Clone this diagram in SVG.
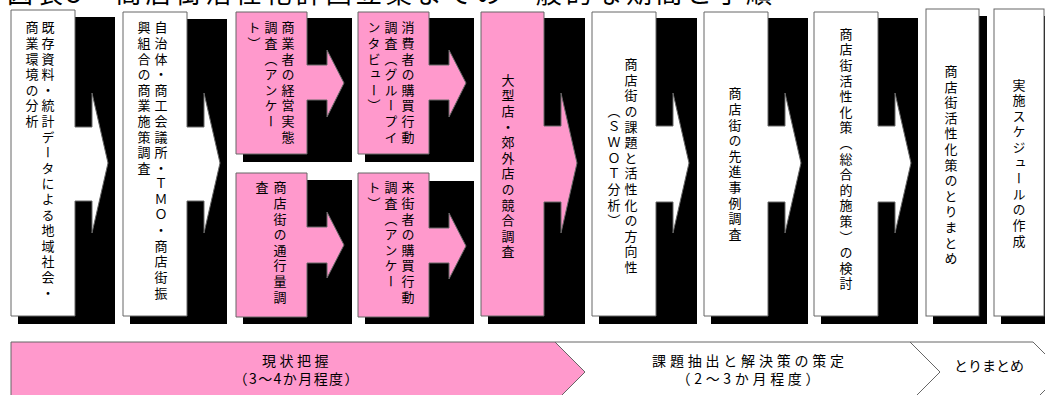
<svg xmlns="http://www.w3.org/2000/svg" width="1045" height="395" viewBox="0 0 1045 395">
<style>
.bg{fill:#ffffff}
.sh{fill:#000000}
.w{fill:#ffffff;stroke:#666666;stroke-width:1}
.p{fill:#ff99cc;stroke:#666666;stroke-width:1}
.v{writing-mode:vertical-rl;font-family:"Noto Sans CJK JP","Noto Sans CJK SC",sans-serif;font-size:13px;letter-spacing:2.6px;fill:#000}
.m{text-anchor:middle}
.h{font-family:"Noto Sans CJK JP","Noto Sans CJK SC",sans-serif;font-size:14px;fill:#000;text-anchor:middle}
.t{font-family:"Noto Sans CJK JP","Noto Sans CJK SC",sans-serif;font-size:26px;fill:#000}
</style>
<rect class="bg" x="0" y="0" width="1045" height="395"/>
<text class="t" x="7" y="3" textLength="765" lengthAdjust="spacing">図表5　商店街活性化計画立案までの一般的な期間と手順</text>

<g id="node1">
<rect class="sh" x="18" y="17" width="97" height="307"/>
<path class="w" d="M11,10 H75 V127 H92 V93 L108,163 L92,233 V201 H75 V316 H11 Z"/>
<text class="v" x="48" y="21">既存資料・統計データによる地域社会・</text>
<text class="v" x="32" y="21">商業環境の分析</text>
</g>

<g id="node2">
<rect class="sh" x="130" y="19" width="97" height="305"/>
<path class="w" d="M123,12 H187 V127 H204 V93 L220,163 L204,233 V201 H187 V316 H123 Z"/>
<text class="v" x="161" y="21">自治体・商工会議所・ＴＭＯ・商店街振</text>
<text class="v" x="144" y="21">興組合の商業施策調査</text>
</g>

<g id="node3">
<rect class="sh" x="243" y="18" width="109" height="144"/>
<path class="p" d="M236,12 H307 V65 H327 V50 L344,83 L327,117 V100 H307 V154 H236 Z"/>
<text class="v" x="288" y="21">商業者の経営実態</text>
<text class="v" x="271" y="21">調査（アンケー</text>
<text class="v" x="254" y="21">ト）</text>
</g>

<g id="node4">
<rect class="sh" x="365" y="18" width="109" height="144"/>
<path class="p" d="M358,12 H429 V65 H449 V50 L466,83 L449,117 V100 H429 V154 H358 Z"/>
<text class="v" x="408" y="21">消費者の購買行動</text>
<text class="v" x="391" y="21">調査（グループイ</text>
<text class="v" x="374" y="21">ンタビュー）</text>
</g>

<g id="node5">
<rect class="sh" x="243" y="180" width="109" height="144"/>
<path class="p" d="M236,173 H307 V227 H327 V212 L344,245 L327,278 V263 H307 V317 H236 Z"/>
<text class="v" x="280" y="181">商店街の通行量調</text>
<text class="v" x="262" y="181">査</text>
</g>

<g id="node6">
<rect class="sh" x="365" y="181" width="109" height="143"/>
<path class="p" d="M358,173 H429 V228 H449 V213 L466,246 L449,279 V263 H429 V317 H358 Z"/>
<text class="v" x="408" y="181">来街者の購買行動</text>
<text class="v" x="391" y="181">調査（アンケー</text>
<text class="v" x="374" y="181">ト）</text>
</g>

<g id="node7">
<rect class="sh" x="488" y="18" width="97" height="306"/>
<path class="p" d="M481,12 H544 V126 H561 V93 L577,163 L561,233 V202 H544 V316 H481 Z"/>
<text class="v m" x="508" y="167">大型店・郊外店の競合調査</text>
</g>

<g id="node8">
<rect class="sh" x="599" y="18" width="98" height="306"/>
<path class="w" d="M592,12 H656 V126 H673 V93 L689,163 L673,233 V202 H656 V316 H592 Z"/>
<text class="v m" x="631" y="167">商店街の課題と活性化の方向性</text>
<text class="v m" x="614" y="167">（ＳＷＯＴ分析）</text>
</g>

<g id="node9">
<rect class="sh" x="711" y="18" width="97" height="306"/>
<path class="w" d="M704,12 H768 V126 H785 V93 L801,163 L785,233 V202 H768 V316 H704 Z"/>
<text class="v m" x="735" y="165">商店街の先進事例調査</text>
</g>

<g id="node10">
<rect class="sh" x="821" y="18" width="97" height="306"/>
<path class="w" d="M814,12 H878 V126 H895 V93 L911,163 L895,233 V202 H878 V316 H814 Z"/>
<text class="v m" x="846" y="160">商店街活性化策（総合的施策）の検討</text>
</g>

<g id="node11">
<rect class="sh" x="933" y="16" width="54" height="308"/>
<rect class="w" x="926" y="9" width="53" height="307"/>
<text class="v m" x="951" y="166">商店街活性化策のとりまとめ</text>
</g>

<g id="node12">
<rect class="sh" x="1001" y="16" width="52" height="308"/>
<rect class="w" x="994" y="9" width="50" height="307"/>
<text class="v m" x="1019" y="164">実施スケジュールの作成</text>
</g>

<g id="connectors"></g>

<g id="phase1">
<path class="p" d="M11,342 H555 L585,372 L555,402 H11 Z"/>
<text class="h" x="297" y="366" letter-spacing="3.5">現状把握</text>
<text class="h" x="296" y="384" textLength="125" lengthAdjust="spacing">（3～4か月程度）</text>
</g>

<g id="phase2">
<path class="w" d="M555,342 H910 L940,372 L910,402 H555 L585,372 Z"/>
<text class="h" x="750" y="366" letter-spacing="3.8">課題抽出と解決策の策定</text>
<text class="h" x="748" y="384" textLength="143" lengthAdjust="spacing">（2～3か月程度）</text>
</g>

<g id="phase3">
<path class="w" d="M910,342 H1033 L1063,372 L1033,402 H910 L940,372 Z"/>
<text class="h" x="989" y="371" font-size="13.5">とりまとめ</text>
</g>
</svg>
